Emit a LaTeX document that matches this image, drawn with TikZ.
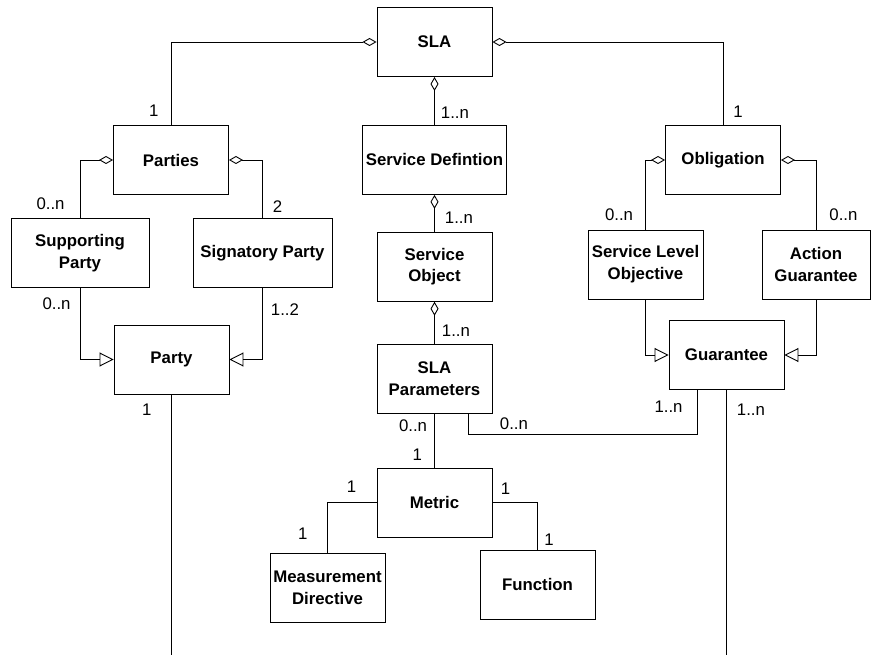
\documentclass[tikz,border=0pt]{standalone}
\usepackage{fontspec}
\setmainfont{Liberation Sans}
\usetikzlibrary{arrows.meta,positioning}

\begin{document}
\begin{tikzpicture}[
  x=1pt, y=-1pt,
  box/.style={draw, line width=0.9pt, align=center, minimum width=115pt, minimum height=69pt,
    inner sep=2pt, font=\bfseries\fontsize{16.8}{21.7}\selectfont},
  mult/.style={inner sep=0pt, font=\fontsize{16.8}{20}\selectfont},
  conn/.style={line width=0.9pt},
  agg/.style={conn, {Diamond[open,length=14pt,width=8pt]}-},
  gen/.style={conn, -{Triangle[open,length=14pt,width=14pt]}}
]
\useasboundingbox (0,0) rectangle (871,655);
\coordinate (bottom) at (0,655);

% Centre column
\node[box] (sla) at (434.5,42) {SLA};
\node[box, minimum width=144pt, below=48pt of sla] (servdef) {Service Defintion};
\node[box, below=37pt of servdef] (servobj) {Service\\Object};
\node[box, below=42pt of servobj] (slaparams) {SLA\\Parameters};
\node[box, below=54pt of slaparams] (metric) {Metric};
\node[box] (measdir) at (327.5,588) {Measurement\\Directive};
\node[box] (function) at (537.5,584.5) {Function};

% Parties side
\node[box] (parties) at (171,160) {Parties};
\node[box, minimum width=138pt] (supporting) at (80,253) {Supporting\\Party};
\node[box, minimum width=139pt] (signatory) at (262.5,253) {Signatory Party};
\node[box] (party) at (171.5,359.5) {Party};

% Obligation side
\node[box] (obligation) at (723,160) {Obligation};
\node[box] (slo) at (645.5,264.5) {Service Level\\Objective};
\node[box, minimum width=108pt] (actguar) at (816,264.5) {Action\\Guarantee};
\node[box] (guarantee) at (726.5,355) {Guarantee};

% Aggregations
\draw[agg] (sla.west) -| (parties.north) node[mult, above left=8pt and 12pt] {1};
\draw[agg] (sla.south) -- (servdef.north) node[mult, above right=6pt and 6pt] {1..n};
\draw[agg] (sla.east) -| (obligation.north) node[mult, above right=7pt and 10pt] {1};
\draw[agg] (parties.west) -| (supporting.north) node[mult, above left=8pt and 15pt] {0..n};
\draw[agg] (parties.east) -| (signatory.north) node[mult, above right=5pt and 10pt] {2};
\draw[agg] (servdef.south) -- (servobj.north) node[mult, above right=8pt and 10pt] {1..n};
\draw[agg] (servobj.south) -- (slaparams.north) node[mult, above right=7pt and 7pt] {1..n};
\draw[agg] (obligation.west) -| (slo.north) node[mult, above left=8pt and 12pt] {0..n};
\draw[agg] (obligation.east) -| (actguar.north) node[mult, above right=8pt and 13pt] {0..n};

% Generalizations
\draw[gen] (supporting.south) node[mult, below left=9pt and 9pt] {0..n} |- (party.west);
\draw[gen] (signatory.south) node[mult, below right=15pt and 8pt] {1..2} |- (party.east);
\draw[gen] (slo.south) |- (guarantee.west);
\draw[gen] (actguar.south) |- (guarantee.east);

% Associations
\draw[conn] (party.south) node[mult, below left=9pt and 19.5pt] {1} -- (party.south |- bottom);
\draw[conn] (slaparams.south) node[mult, below left=6pt and 7pt] {0..n}
  -- (metric.north) node[mult, above left=7pt and 12pt] {1};
\draw[conn] ([xshift=34pt]slaparams.south) -- ++(0,21) node[mult, above right=5pt and 31pt] {0..n}
  -| ([xshift=-29.5pt]guarantee.south) node[mult, below left=11pt and 14pt] {1..n};
\draw[conn] (guarantee.south) node[mult, below right=14pt and 10pt] {1..n} -- (guarantee.south |- bottom);
\draw[conn] (metric.west) node[mult, above left=10pt and 20pt] {1}
  -| (measdir.north) node[mult, above left=13pt and 19.5pt] {1};
\draw[conn] (metric.east) node[mult, above right=8pt and 8pt] {1}
  -| (function.north) node[mult, above right=4pt and 6.5pt] {1};

\end{tikzpicture}
\end{document}
